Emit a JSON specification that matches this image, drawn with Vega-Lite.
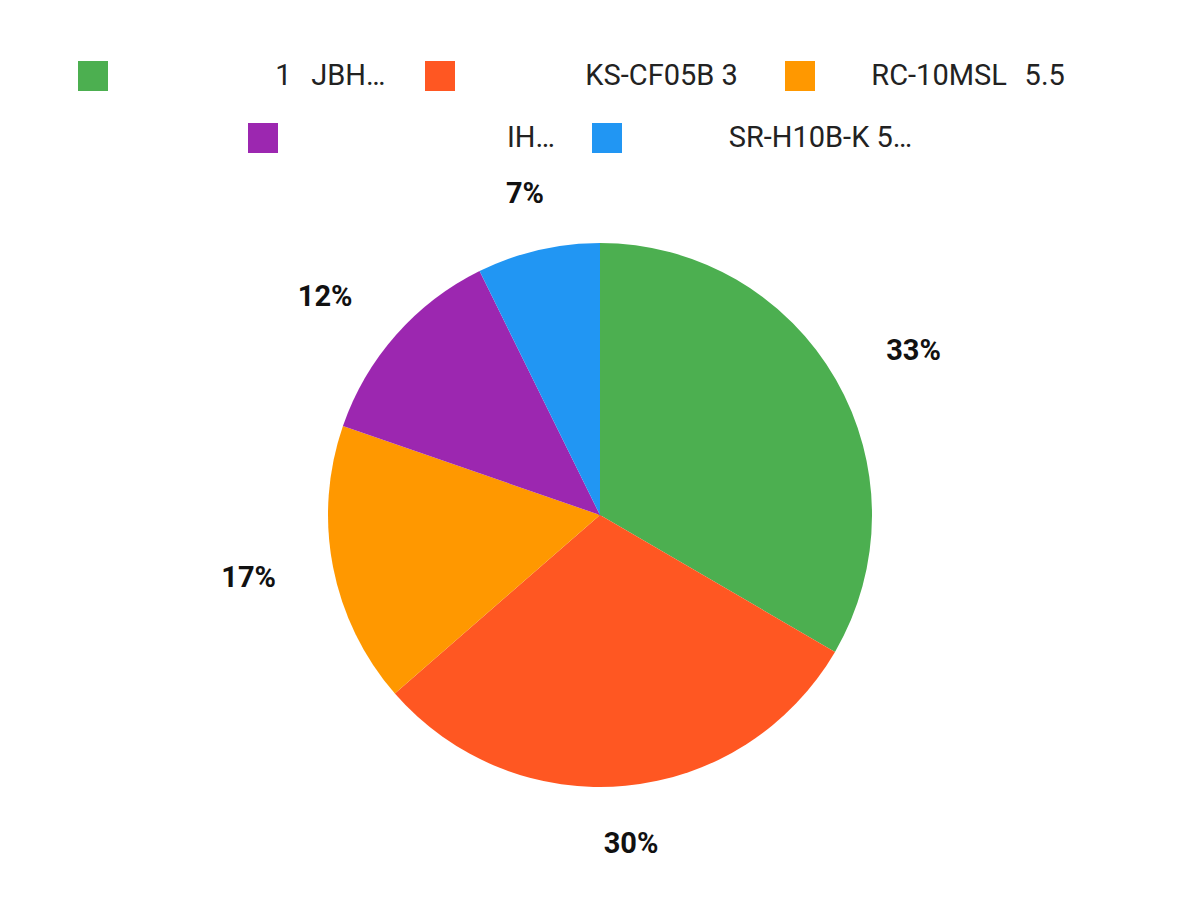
{
  "$schema": "https://vega.github.io/schema/vega-lite/v6.json",
  "width": 1200,
  "height": 770,
  "autosize": {"type": "none"},
  "padding": {"top": 130, "left": 0, "right": 0, "bottom": 0},
  "background": "#ffffff",
  "config": {
    "view": {"stroke": null},
    "font": "Roboto",
    "legend": {
      "padding": 0,
      "symbolType": "square",
      "symbolSize": 900,
      "symbolStrokeWidth": 0,
      "labelFont": "Roboto",
      "labelFontSize": 29,
      "labelColor": "#222222",
      "labelOffset": 12,
      "labelLimit": 600,
      "columnPadding": 32,
      "direction": "horizontal",
      "title": null
    }
  },
  "data": {
    "values": [
      {"key": "JBH", "label": "\u200b\u2003\u2003\u2003\u2003\u2003\u20051\u2002\u2006JBH\u2026\u2005\u200b", "value": 33.4, "pct": "33%", "rank": 1},
      {"key": "KS-CF05B", "label": "\u200b\u2003\u2003\u2003\u2003KS-CF05B 3\u2002\u200b", "value": 30.2, "pct": "30%", "rank": 2},
      {"key": "RC-10MSL", "label": "\u200b\u2003\u2002RC-10MSL\u2002\u200a5.5", "value": 16.7, "pct": "17%", "rank": 3},
      {"key": "IH", "label": "\u200b\u2003\u2003\u2003\u2003\u2003\u2003\u2003\u2004IH\u2026\u2006\u200b", "value": 12.4, "pct": "12%", "rank": 4},
      {"key": "SR-H10B-K", "label": "\u200b\u2003\u2003\u2003\u2009SR-H10B-K 5\u2026", "value": 7.3, "pct": "7%", "rank": 5}
    ]
  },
  "layer": [
    {
      "transform": [{"filter": "datum.rank <= 3"}],
      "mark": {"type": "point", "filled": true, "opacity": 1, "size": 10},
      "encoding": {
        "color": {
          "field": "label",
          "type": "nominal",
          "sort": null,
          "scale": {
            "domain": [
              "\u200b\u2003\u2003\u2003\u2003\u2003\u20051\u2002\u2006JBH\u2026\u2005\u200b",
              "\u200b\u2003\u2003\u2003\u2003KS-CF05B 3\u2002\u200b",
              "\u200b\u2003\u2002RC-10MSL\u2002\u200a5.5"
            ],
            "range": ["#4CAF50", "#FF5722", "#FF9800"]
          },
          "legend": {"orient": "none", "legendX": 78, "legendY": -69}
        }
      }
    },
    {
      "transform": [{"filter": "datum.rank > 3"}],
      "mark": {"type": "point", "filled": true, "opacity": 1, "size": 10},
      "encoding": {
        "color": {
          "field": "label",
          "type": "nominal",
          "sort": null,
          "scale": {
            "domain": [
              "\u200b\u2003\u2003\u2003\u2003\u2003\u2003\u2003\u2004IH\u2026\u2006\u200b",
              "\u200b\u2003\u2003\u2003\u2009SR-H10B-K 5\u2026"
            ],
            "range": ["#9C27B0", "#2196F3"]
          },
          "legend": {"orient": "none", "legendX": 248, "legendY": -7}
        }
      }
    },
    {
      "mark": {"type": "arc", "outerRadius": 272},
      "encoding": {
        "theta": {"field": "value", "type": "quantitative", "stack": true},
        "order": {"field": "rank", "type": "quantitative"},
        "color": {
          "field": "key",
          "type": "nominal",
          "sort": null,
          "scale": {
            "domain": ["JBH", "KS-CF05B", "RC-10MSL", "IH", "SR-H10B-K"],
            "range": ["#4CAF50", "#FF5722", "#FF9800", "#9C27B0", "#2196F3"]
          },
          "legend": null
        }
      }
    },
    {
      "mark": {"type": "text", "radius": 330, "align": "left", "baseline": "middle", "font": "Roboto", "fontSize": 29, "fontWeight": "bold", "color": "#111111"},
      "encoding": {
        "theta": {"field": "value", "type": "quantitative", "stack": true},
        "order": {"field": "rank", "type": "quantitative"},
        "text": {"condition": {"test": "datum.key === 'JBH'", "field": "pct"}, "value": ""}
      }
    },
    {
      "mark": {"type": "text", "radius": 330, "align": "right", "baseline": "middle", "font": "Roboto", "fontSize": 29, "fontWeight": "bold", "color": "#111111"},
      "encoding": {
        "theta": {"field": "value", "type": "quantitative", "stack": true},
        "order": {"field": "rank", "type": "quantitative"},
        "text": {"condition": {"test": "datum.key === 'RC-10MSL' || datum.key === 'IH'", "field": "pct"}, "value": ""}
      }
    },
    {
      "mark": {"type": "text", "radius": 330, "align": "center", "baseline": "middle", "font": "Roboto", "fontSize": 29, "fontWeight": "bold", "color": "#111111"},
      "encoding": {
        "theta": {"field": "value", "type": "quantitative", "stack": true},
        "order": {"field": "rank", "type": "quantitative"},
        "text": {"condition": {"test": "datum.key === 'KS-CF05B' || datum.key === 'SR-H10B-K'", "field": "pct"}, "value": ""}
      }
    }
  ],
  "resolve": {"scale": {"color": "independent"}, "legend": {"color": "independent"}}
}
